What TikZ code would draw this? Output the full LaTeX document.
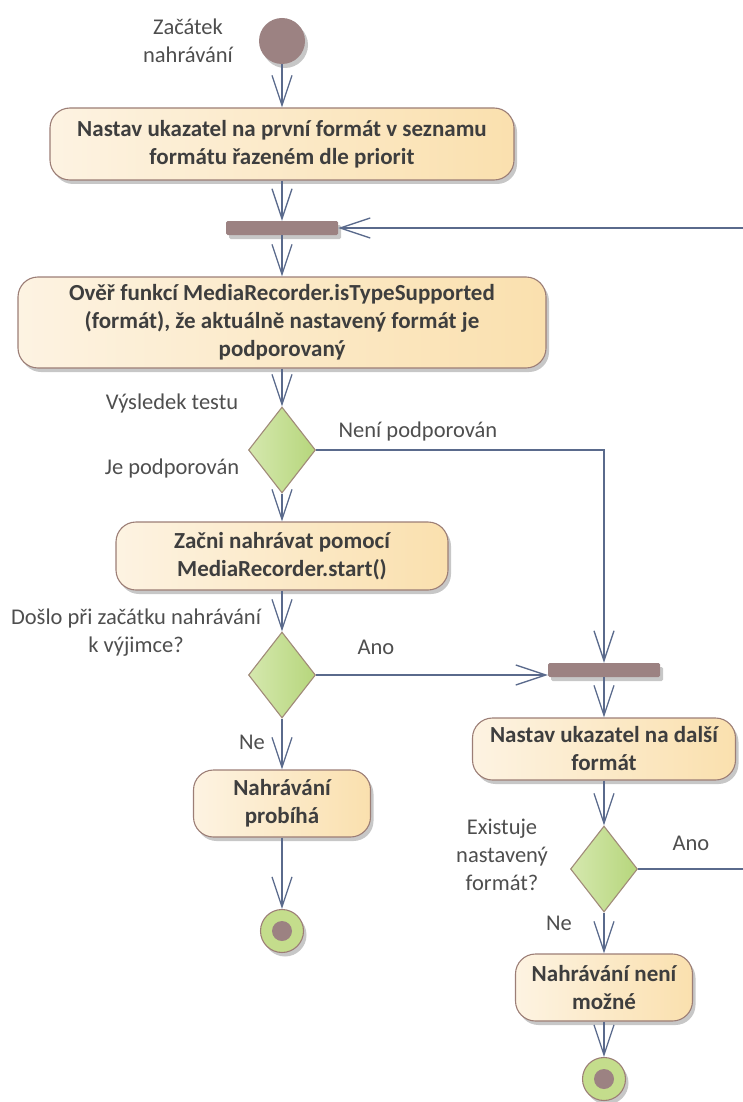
\documentclass[tikz,border=0pt]{standalone}
\usepackage{fontspec}
\setmainfont{Carlito}
\usetikzlibrary{arrows.meta,shapes.geometric,shadows}
\definecolor{lineC}{HTML}{5A6A8C}
\definecolor{boxL}{HTML}{FDF3E2}
\definecolor{boxR}{HTML}{FAE0AE}
\definecolor{boxB}{HTML}{9C7E76}
\definecolor{barC}{HTML}{9C8282}
\definecolor{dmL}{HTML}{D5E8AE}
\definecolor{dmR}{HTML}{B6D67C}
\definecolor{dmB}{HTML}{A08A78}
\definecolor{finC}{HTML}{C4DD8C}
\definecolor{txtC}{HTML}{3E3E3E}
\definecolor{lblC}{HTML}{4E4E4E}
\begin{document}
\begin{tikzpicture}[x=1pt,y=-1pt,
  shd/.style={drop shadow={shadow xshift=3pt,shadow yshift=-4pt,fill=black,opacity=0.22}},
  act/.style={rounded corners=20pt,draw=boxB,line width=1.1pt,left color=boxL,right color=boxR,shd,
    font=\bfseries\fontsize{23}{28}\selectfont,text=txtC,align=center,inner sep=0pt},
  barbox/.style={rectangle,fill=barC,inner sep=0pt,minimum width=112pt,minimum height=14pt,rounded corners=1.5pt,shd},
  startnode/.style={circle,fill=barC,inner sep=0pt,minimum size=46pt,shd},
  endnode/.style={circle,draw=boxB,line width=1.1pt,fill=finC,inner sep=0pt,minimum size=43pt,shd,
    path picture={\fill[barC] (path picture bounding box.center) circle (10pt);}},
  dec/.style={diamond,draw=dmB,line width=1.1pt,left color=dmL,right color=dmR,inner sep=0pt,
    minimum width=67pt,minimum height=86pt},
  lbl/.style={font=\fontsize{22.5}{28}\selectfont,text=lblC,align=center,inner sep=0pt},
  wire/.style={draw=lineC,line width=1.3pt},
  flow/.style={wire,-{Straight Barb[length=30pt,width=20pt,line width=1.3pt]}}
]
\useasboundingbox (0,0) rectangle (743,1102);

% nodes
\node[startnode] (start) at (282,41) {};
\node[act,minimum width=464pt,minimum height=72pt] (b1) at (282,144)
  {Nastav ukazatel na první formát v seznamu\\formátu řazeném dle priorit};
\node[barbox] (bar1) at (282,228) {};
\node[act,minimum width=528pt,minimum height=91pt] (b2) at (282,322.5)
  {Ověř funkcí MediaRecorder.isTypeSupported\\(formát), že aktuálně nastavený formát je\\podporovaný};
\node[dec] (d1) at (282,450) {};
\node[act,minimum width=332pt,minimum height=68pt] (b3) at (282,556)
  {Začni nahrávat pomocí\\MediaRecorder.start()};
\node[dec] (d2) at (282,675) {};
\node[barbox] (bar2) at (604,670) {};
\node[act,minimum width=263pt,minimum height=62pt] (b4) at (604,749)
  {Nastav ukazatel na další\\formát};
\node[act,minimum width=177pt,minimum height=67pt] (b5) at (282,803.5)
  {Nahrávání\\probíhá};
\node[endnode] (f1) at (282,931) {};
\node[dec] (d3) at (604,869) {};
\node[act,minimum width=177pt,minimum height=67pt] (b6) at (604,987.5)
  {Nahrávání není\\možné};
\node[endnode] (f2) at (604,1079) {};
\coordinate (loopIn) at (746,228);
\coordinate (loopOut) at (746,869);

% labels
\node[lbl] (l0) at (188,41) {Začátek\\nahrávání};
\node[lbl] (l1) at (172,403) {Výsledek testu};
\node[lbl] (l2) at (418,431) {Není podporován};
\node[lbl] (l3) at (172,468) {Je podporován};
\node[lbl] (l4) at (136,633) {Došlo při začátku nahrávání\\k výjimce?};
\node[lbl] (l5) at (376,647) {Ano};
\node[lbl] (l6) at (252,742) {Ne};
\node[lbl] (l7) at (502,855) {Existuje\\nastavený\\formát?};
\node[lbl] (l8) at (691,843) {Ano};
\node[lbl] (l9) at (559,923) {Ne};

% connectors
\draw[flow] (start) -- (b1);
\draw[flow] (b1) -- (bar1);
\draw[flow] (loopIn) -- (bar1.east);
\draw[flow] (bar1) -- (b2);
\draw[flow] (b2) -- (d1);
\draw[flow] (d1) -- (b3);
\draw[flow] (d1.east) -| (bar2.north);
\draw[flow] (b3) -- (d2);
\draw[flow] (d2.east) -- (bar2.west |- d2.east);
\draw[flow] (bar2) -- (b4);
\draw[flow] (d2) -- (b5);
\draw[flow] (b5) -- (f1);
\draw[flow] (b4) -- (d3);
\draw[wire] (d3.east) -- (loopOut);
\draw[flow] (d3) -- (b6);
\draw[flow] (b6) -- (f2);
\end{tikzpicture}
\end{document}
